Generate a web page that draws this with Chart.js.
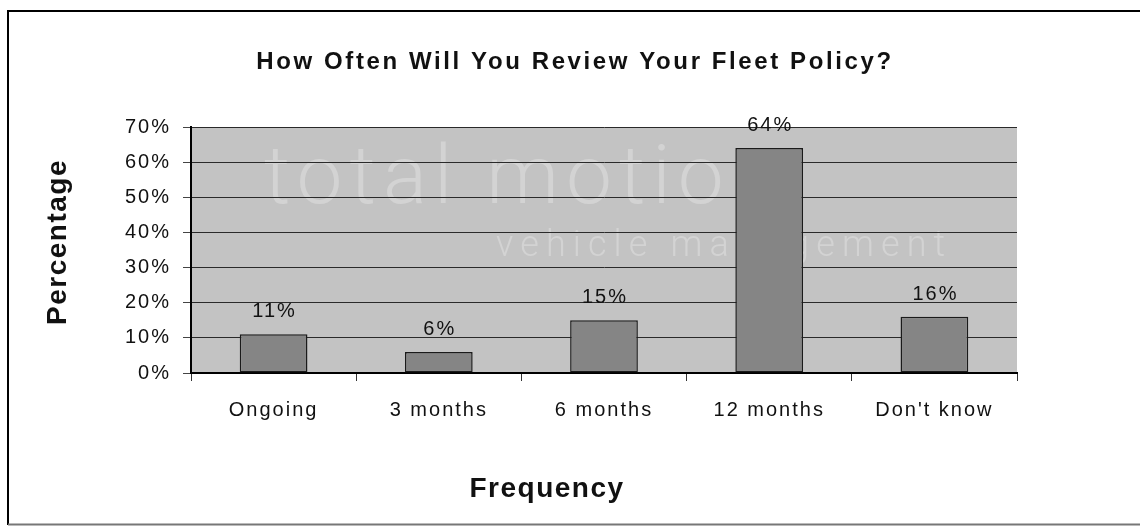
<!DOCTYPE html>
<html>
<head>
<meta charset="utf-8">
<script src="https://cdn.jsdelivr.net/npm/chart.js@4.4.1/dist/chart.umd.min.js"></script>
<style>
  html, body { margin: 0; padding: 0; background: #fff; }
  #wrap { width: 1140px; height: 526px; }
</style>
</head>
<body>
<div id="wrap"><canvas id="fleetChart" width="1140" height="526"></canvas></div>
<script>
const categories = ['Ongoing', '3 months', '6 months', '12 months', "Don't know"];
const percentages = [11, 6, 15, 64, 16];
const yTicks = [0, 10, 20, 30, 40, 50, 60, 70];

const FONT = '"Liberation Sans", Arial, sans-serif';

// background, watermark, value labels, titles and outer frame
const decor = {
    id: 'decor',
    beforeDraw(chart) {
        const { ctx, chartArea: a } = chart;
        ctx.save();
        ctx.fillStyle = '#c3c3c3';
        ctx.fillRect(a.left, a.top, a.right - a.left, a.bottom - a.top);
        ctx.beginPath();
        ctx.rect(a.left, a.top, a.right - a.left, a.bottom - a.top);
        ctx.clip();
        ctx.fillStyle = '#d3d3d3';
        ctx.textAlign = 'left';
        ctx.textBaseline = 'alphabetic';
        ctx.font = '300 82px Roboto, sans-serif';
        ctx.letterSpacing = '7px';
        ctx.fillText('total motion', 264, 203);
        ctx.font = '300 36px Roboto, sans-serif';
        ctx.letterSpacing = '7.1px';
        ctx.fillText('vehicle management', 496, 256);
        ctx.restore();
        // wider glyph spacing for the axis labels drawn by Chart.js
        ctx.letterSpacing = '2px';
    },
    afterDatasetsDraw(chart) {
        const { ctx } = chart;
        const bars = chart.getDatasetMeta(0).data;
        ctx.save();
        ctx.fillStyle = '#111';
        ctx.font = '20px ' + FONT;
        ctx.letterSpacing = '2px';
        ctx.textAlign = 'center';
        ctx.textBaseline = 'alphabetic';
        bars.forEach((bar, i) => {
            ctx.fillText(percentages[i] + '%', bar.x + 1, bar.y - 17);
        });
        ctx.restore();
    },
    afterDraw(chart) {
        const { ctx } = chart;
        ctx.save();
        ctx.fillStyle = '#111';
        ctx.textAlign = 'center';
        ctx.textBaseline = 'alphabetic';

        ctx.font = 'bold 24px ' + FONT;
        ctx.letterSpacing = '2.6px';
        ctx.fillText('How Often Will You Review Your Fleet Policy?', 575, 69);

        ctx.font = 'bold 28px ' + FONT;
        ctx.letterSpacing = '1.5px';
        ctx.fillText('Frequency', 547, 497);

        ctx.translate(66, 243);
        ctx.rotate(-Math.PI / 2);
        ctx.fillText('Percentage', 1, 0);
        ctx.restore();

        // outer frame
        ctx.save();
        ctx.letterSpacing = '0px';
        ctx.lineWidth = 2;
        ctx.strokeStyle = '#000';
        ctx.beginPath();
        ctx.moveTo(8, 525);
        ctx.lineTo(8, 11);
        ctx.lineTo(1140, 11);
        ctx.stroke();
        ctx.strokeStyle = '#777';
        ctx.beginPath();
        ctx.moveTo(8, 524.5);
        ctx.lineTo(1140, 524.5);
        ctx.stroke();
        ctx.restore();
    }
};

const ctx = document.getElementById('fleetChart');

new Chart(ctx, {
    type: 'bar',
    data: {
        labels: categories,
        datasets: [{
            data: percentages,
            backgroundColor: '#858585',
            borderColor: '#1a1a1a',
            borderWidth: 1.5,
            borderSkipped: false,
            barPercentage: 0.41,
            categoryPercentage: 1
        }]
    },
    options: {
        responsive: false,
        devicePixelRatio: 1,
        animation: false,
        layout: { padding: { left: 0, top: 127, right: 123, bottom: 0 } },
        plugins: {
            legend: { display: false },
            tooltip: { enabled: false }
        },
        scales: {
            x: {
                grid: {
                    drawOnChartArea: false,
                    drawTicks: true,
                    tickLength: 8,
                    tickColor: '#333',
                    offset: true
                },
                border: { display: true, color: '#000', width: 2 },
                ticks: {
                    color: '#111',
                    font: { family: FONT, size: 20 },
                    padding: 17,
                    maxRotation: 0,
                    autoSkip: false
                },
                afterFit(scale) { scale.height = 153; }
            },
            y: {
                min: 0,
                max: 70,
                grid: {
                    color: '#2a2a2a',
                    lineWidth: 1,
                    tickLength: 8,
                    tickColor: '#444'
                },
                border: { display: true, color: '#000', width: 2 },
                ticks: {
                    color: '#111',
                    font: { family: FONT, size: 20 },
                    padding: 12,
                    callback: v => v + '%'
                },
                afterBuildTicks(scale) {
                    scale.ticks = yTicks.map(v => ({ value: v }));
                },
                afterFit(scale) { scale.width = 191; }
            }
        }
    },
    plugins: [decor]
});
</script>
</body>
</html>
